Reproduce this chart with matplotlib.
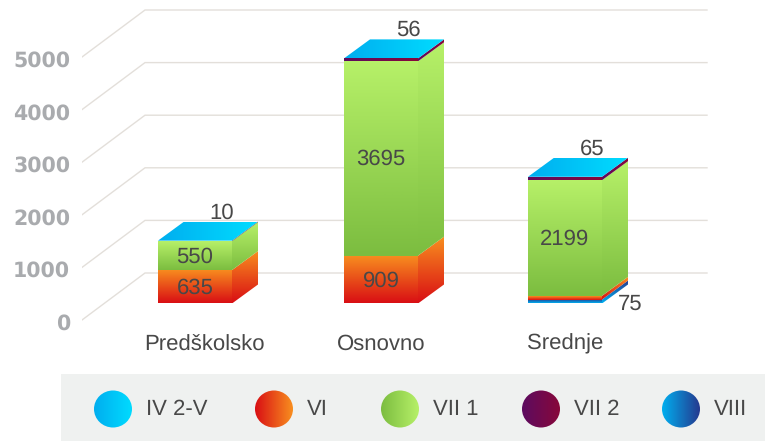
import numpy as np
import matplotlib
matplotlib.use("Agg")
import matplotlib.pyplot as plt
from matplotlib.colors import LinearSegmentedColormap
from matplotlib.patches import Polygon, Ellipse
from matplotlib.transforms import ScaledTranslation

# data
categories = ["Predškolsko", "Osnovno", "Srednje"]
series_names = ["IV 2-V", "VI", "VII 1", "VII 2", "VIII"]
vi = [635, 909, 70]
vii1 = [550, 3695, 2199]
vii2 = [10, 56, 65]
viii = [0, 0, 75]
yticks = [0, 1000, 2000, 3000, 4000, 5000]

# gradients (start, end)
colors = {
    "IV 2-V": ("#00aeef", "#00dcff"),
    "VI": ("#d90f14", "#f88e1f"),
    "VII 1": ("#7cbd40", "#b6f068"),
    "VII 2": ("#5c0b60", "#87083a"),
    "VIII": ("#00aeef", "#253a8f"),
}

W, H = 765, 441
PX_PER_1000 = 52.6
left_px = [158, 344, 528]
cat_nudge = [9, 0, 0]
bar_w = 74
dx_bar = 26
dy_bar = 19 / PX_PER_1000 * 1000
base = 16.5 / PX_PER_1000 * 1000
dx_wall = 63
dy_wall = 47 / PX_PER_1000 * 1000

plt.rcParams['font.family'] = ['Liberation Sans', 'DejaVu Sans']
plt.rcParams['text.hinting'] = 'no_hinting'
LABEL = "#484848"
FS = 15.9

fig = plt.figure(figsize=(W / 100, H / 100), dpi=100, facecolor="white")
ax = fig.add_axes([82 / W, 0, (W - 82) / W, 1])
ax.set_facecolor("none")


def gradient_poly(a, xs, ys, name, horizontal=False):
    cmap = LinearSegmentedColormap.from_list(name, colors[name])
    g = np.linspace(0, 1, 64)
    g = g.reshape(1, -1) if horizontal else g.reshape(-1, 1)
    im = a.imshow(g, cmap=cmap, aspect="auto", origin="lower", interpolation="bilinear",
                  extent=(min(xs), max(xs), min(ys), max(ys)), zorder=3)
    im.set_clip_path(Polygon(list(zip(xs, ys)), closed=True, transform=a.transData))
    return im


# gridlines, wall and floor
for t in yticks:
    ax.plot([82, 82 + dx_wall, 707], [t, t + dy_wall, t + dy_wall],
            color="#e3dfda", lw=1, zorder=1, solid_joinstyle="miter")

# stacked boxes
stack = [("VIII", viii), ("VI", vi), ("VII 1", vii1), ("VII 2", vii2)]
for i, x0 in enumerate(left_px):
    x1 = x0 + bar_w
    bottom = base
    for name, vals in stack:
        v = vals[i]
        if v == 0:
            continue
        top = bottom + v
        horizontal = name == "VII 2"
        # side first, front over it
        gradient_poly(ax, [x1, x1 + dx_bar, x1 + dx_bar, x1],
                      [bottom, bottom + dy_bar, top + dy_bar, top], name, horizontal)
        gradient_poly(ax, [x0, x1, x1, x0], [bottom, bottom, top, top], name, horizontal)
        if v >= 100:
            ax.text((x0 + x1) / 2, (bottom + top) / 2 - 20, str(v), ha="center", va="center",
                    fontsize=FS, color=LABEL, zorder=5)
        bottom = top
    # top face
    gradient_poly(ax, [x0, x1, x1 + dx_bar, x0 + dx_bar],
                  [bottom, bottom, bottom + dy_bar, bottom + dy_bar], "IV 2-V", True)
    # small value sitting above the box
    ax.annotate(str(vii2[i]), (x0 + bar_w / 2, bottom + dy_bar), xytext=(27, 9),
                textcoords="offset pixels", ha="center", va="center",
                fontsize=FS, color=LABEL, zorder=5)
    if viii[i] > 0:
        ax.annotate(str(viii[i]), (x1, base), xytext=(28, -1), textcoords="offset pixels",
                    ha="center", va="center", fontsize=FS, color=LABEL, zorder=5)
    ax.annotate(categories[i], (x0 + bar_w / 2 + cat_nudge[i], 0), xytext=(0, -24),
                textcoords="offset pixels", ha="center", va="center", fontsize=FS,
                color=LABEL, zorder=5)

ax.set_xlim(82, W)
ax.set_ylim(-(H - 320) / PX_PER_1000 * 1000, 320 / PX_PER_1000 * 1000)
ax.set_xticks([])
ax.set_yticks(yticks)
ax.set_yticklabels([str(t) for t in yticks], fontfamily="DejaVu Sans", fontweight="bold",
                   fontsize=14.8, color="#a9abae")
ax.tick_params(axis="y", length=0, pad=8.5)
for lab in ax.get_yticklabels():
    lab.set_transform(lab.get_transform() + ScaledTranslation(0, -1.2 / 72, fig.dpi_scale_trans))
for s in ax.spines.values():
    s.set_visible(False)

# legend strip
lax = fig.add_axes([61 / W, 0, (W - 61) / W, 67 / H])
lax.set_xlim(61, W)
lax.set_ylim(441, 374)
lax.set_facecolor("#eff1f0")
lax.axis("off")
lax.add_patch(plt.Rectangle((61, 374), W - 61, 67, color="#eff1f0", zorder=0))
leg_x = [113, 274, 400, 541, 681]
for name, cx in zip(series_names, leg_x):
    cmap = LinearSegmentedColormap.from_list(name, colors[name])
    im = lax.imshow(np.linspace(0, 1, 64).reshape(1, -1), cmap=cmap, aspect="auto",
                    extent=(cx - 19, cx + 19, 428, 390), zorder=3)
    im.set_clip_path(Ellipse((cx, 409), 38, 37, transform=lax.transData))
    lax.text(cx + 33, 409, name, ha="left", va="center", fontsize=FS, color=LABEL, zorder=5)
lax.set_xlim(61, W)
lax.set_ylim(441, 374)

fig.savefig("out.png", dpi=100)
